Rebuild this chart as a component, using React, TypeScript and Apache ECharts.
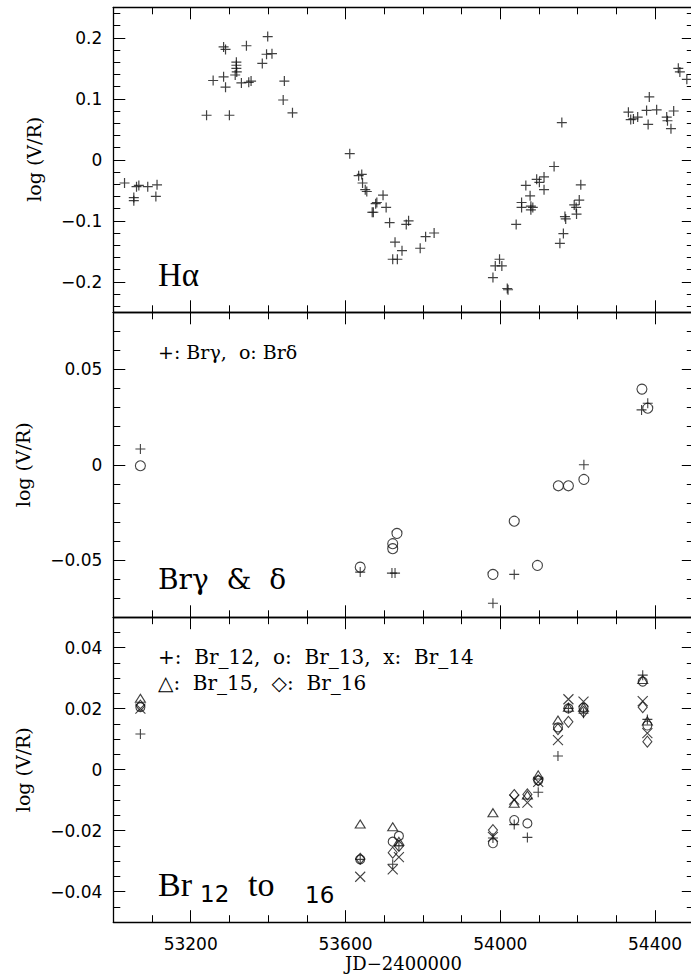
import React, { useEffect, useRef } from "react";
import * as echarts from "echarts";

// ---------------- data ----------------
const X_MIN = 53000;
const X_MAX = 54500;
const X_MINOR = 100;
const X_MAJOR = 400;
const xTickLabels = [53200, 53600, 54000, 54400];

const y1Range = [-0.25, 0.25];
const y1Ticks = [-0.2, -0.1, 0, 0.1, 0.2];
const y2Range = [-0.08, 0.08];
const y2Ticks = [-0.05, 0, 0.05];
const y3Range = [-0.05, 0.05];
const y3Ticks = [-0.04, -0.02, 0, 0.02, 0.04];

// H alpha log(V/R)
const halpha: [number, number][] = [
  [53029, -0.038], [53053, -0.062], [53053, -0.067], [53060, -0.044], [53066, -0.042],
  [53089, -0.044], [53110, -0.060], [53113, -0.041],
  [53241, 0.073], [53258, 0.130], [53285, 0.185], [53290, 0.181], [53285, 0.136],
  [53290, 0.119], [53300, 0.073], [53318, 0.160], [53318, 0.155], [53318, 0.150],
  [53319, 0.144], [53315, 0.139], [53331, 0.126], [53344, 0.187], [53350, 0.127],
  [53356, 0.129], [53385, 0.158], [53399, 0.202], [53396, 0.173], [53410, 0.174],
  [53442, 0.129], [53439, 0.098], [53463, 0.077],
  [53611, 0.010], [53634, -0.026], [53642, -0.024], [53644, -0.038], [53651, -0.049],
  [53655, -0.052], [53669, -0.086], [53672, -0.086], [53678, -0.072], [53681, -0.070],
  [53697, -0.058], [53705, -0.078], [53714, -0.103], [53728, -0.135], [53722, -0.163],
  [53734, -0.163], [53746, -0.149], [53757, -0.106], [53763, -0.100], [53793, -0.145],
  [53807, -0.126], [53829, -0.120],
  [53981, -0.193], [53987, -0.174], [53998, -0.163], [54004, -0.174], [54018, -0.211],
  [54020, -0.213], [54041, -0.106], [54055, -0.070], [54055, -0.078], [54066, -0.042],
  [54077, -0.059], [54079, -0.076], [54084, -0.078], [54079, -0.082], [54094, -0.032],
  [54101, -0.037], [54113, -0.028], [54113, -0.049], [54139, -0.011], [54154, -0.137],
  [54163, -0.121], [54159, 0.061], [54167, -0.093], [54169, -0.097], [54191, -0.074],
  [54196, -0.078], [54197, -0.089], [54204, -0.066], [54208, -0.041],
  [54331, 0.078], [54337, 0.066], [54344, 0.067], [54355, 0.070], [54385, 0.103],
  [54378, 0.081], [54382, 0.058], [54404, 0.082], [54430, 0.070], [54432, 0.064],
  [54441, 0.051], [54448, 0.080], [54460, 0.150], [54464, 0.144], [54482, 0.132],
];

// Br gamma (+) and Br delta (o)
const brGamma: [number, number][] = [
  [53070, 0.0083], [53638, -0.0563], [53720, -0.0568], [53728, -0.0568],
  [53981, -0.0726], [54036, -0.0575], [54216, 0.0], [54365, 0.0288], [54381, 0.0323],
];
const brDelta: [number, number][] = [
  [53070, -0.0005], [53638, -0.0537], [53722, -0.0414], [53722, -0.044], [53733, -0.036],
  [53981, -0.0575], [54036, -0.0296], [54096, -0.0528], [54150, -0.011], [54176, -0.011],
  [54216, -0.0077], [54366, 0.0397], [54381, 0.0297],
];

// Br 12 - 16
const brDates = [53070, 53638, 53722, 53738, 53981, 54036, 54070, 54098, 54149, 54176, 54215, 54368, 54380];
const br12 = [0.0117, -0.0294, -0.031, -0.025, -0.0224, -0.018, -0.0222, -0.0074, 0.0045, 0.0201, 0.0185, 0.031, 0.0165];
const br13 = [0.0205, -0.0294, -0.0236, -0.0217, -0.0241, -0.0165, -0.0176, -0.0035, 0.0139, 0.0201, 0.0203, 0.0289, 0.0145];
const br14 = [0.0200, -0.0351, -0.0327, -0.0287, -0.022, -0.0098, -0.0108, -0.004, 0.0097, 0.0231, 0.0223, 0.0225, 0.012];
const br15 = [0.0234, -0.0178, -0.0187, -0.0235, -0.0141, -0.011, -0.0083, -0.0017, 0.0163, 0.0205, 0.0205, 0.0296, 0.016];
const br16 = [0.0210, -0.0292, -0.0272, -0.025, -0.0198, -0.0083, -0.0081, -0.0035, 0.0133, 0.0157, 0.019, 0.0205, 0.0092];

// ---------------- layout / style ----------------
const GRID_LEFT = 113.3;
const GRID_WIDTH = 580.5;
const PANEL_TOPS = [7.3, 312.3, 617.2];
const PANEL_H = 305;
const TICK = { color: "#000", width: 1 };
const FRAME = { color: "#000", width: 1.3 };
const NUM_FONT = "DejaVu Sans";
const SERIF = "Liberation Serif, DejaVu Serif, serif";
const DSERIF = "DejaVu Serif, serif";
const INK = "#111";

const PLUS = "path://M0 5H10M5 0V10";
const XMARK = "path://M0 0L10 10M10 0L0 10";

const zip = (xs: number[], ys: number[]) => xs.map((x, i) => [x, ys[i]]);
const fmt = (v: number) => (Math.abs(v) < 1e-12 ? "0" : (v < 0 ? "\u2212" : "") + String(Math.abs(v)));
const inList = (list: number[], v: number) => list.some((t) => Math.abs(t - v) < 1e-9);

function xAxesFor(gi: number, labels: boolean) {
  const common = {
    gridIndex: gi, type: "value", min: X_MIN, max: X_MAX,
    splitLine: { show: false }, silent: true,
  };
  const minor = (pos: string) => ({
    ...common, position: pos, minInterval: X_MINOR, maxInterval: X_MINOR,
    axisLine: { show: true, onZero: false, lineStyle: FRAME },
    axisTick: { show: true, inside: true, length: 7, lineStyle: TICK },
    axisLabel: { show: false },
  });
  const major = (pos: string, lab: boolean) => ({
    ...common, position: pos, minInterval: X_MAJOR, maxInterval: X_MAJOR,
    axisLine: { show: false, onZero: false },
    axisTick: { show: true, inside: true, length: 12, lineStyle: TICK },
    axisLabel: lab
      ? {
          show: true, margin: 13, fontFamily: NUM_FONT, fontSize: 17, color: "#000",
          formatter: (v: number) => (inList(xTickLabels, v) ? String(v) : ""),
        }
      : { show: false },
  });
  return [minor("bottom"), major("bottom", labels), minor("top"), major("top", false)];
}

function yAxesFor(gi: number, range: number[], minorStep: number, majorStep: number, ticks: number[]) {
  const common = {
    gridIndex: gi, type: "value", min: range[0], max: range[1],
    splitLine: { show: false }, silent: true,
  };
  const minor = (pos: string, line: boolean) => ({
    ...common, position: pos, minInterval: minorStep, maxInterval: minorStep,
    axisLine: { show: line, onZero: false, lineStyle: FRAME },
    axisTick: { show: true, inside: true, length: 7, lineStyle: TICK },
    axisLabel: { show: false },
  });
  const major = (pos: string, lab: boolean) => ({
    ...common, position: pos, minInterval: majorStep, maxInterval: majorStep,
    axisLine: { show: false, onZero: false },
    axisTick: { show: true, inside: true, length: 12, lineStyle: TICK },
    axisLabel: lab
      ? {
          show: true, margin: 11, fontFamily: NUM_FONT, fontSize: 17, color: "#000",
          formatter: (v: number) => (inList(ticks, v) ? fmt(v) : ""),
        }
      : { show: false },
  });
  return [minor("left", true), major("left", true), minor("right", false), major("right", false)];
}

function scatter(gi: number, data: number[][], symbol: string, size: number | number[], bw = 1.1) {
  return {
    type: "scatter", xAxisIndex: gi * 4, yAxisIndex: gi * 4, data, symbol, symbolSize: size,
    itemStyle: { color: "transparent", borderColor: INK, borderWidth: bw },
    silent: true, z: 5,
  };
}

function txt(text: string, x: number, y: number, size: number, family = SERIF) {
  return {
    type: "text", x, y, silent: true, z: 10,
    style: { text, fontSize: size, fontFamily: family, fill: "#000", align: "left", verticalAlign: "middle" },
  };
}

export default function App() {
  const ref = useRef<HTMLDivElement>(null);
  useEffect(() => {
    if (!ref.current) return;
    const chart = echarts.init(ref.current, undefined, { renderer: "svg" });
    const grids = PANEL_TOPS.map((top) => ({
      left: GRID_LEFT, top, width: GRID_WIDTH, height: PANEL_H,
      show: false, containLabel: false, outerBoundsMode: "none",
    }));
    const yName = (x: number, y: number) => ({
      type: "text", x, y, rotation: Math.PI / 2, silent: true,
      style: { text: "log (V/R)", fontSize: 19, fontFamily: DSERIF, fill: "#000", align: "center", verticalAlign: "middle" },
    });
    const option: any = {
      animation: false,
      backgroundColor: "#fff",
      grid: grids,
      xAxis: [...xAxesFor(0, false), ...xAxesFor(1, false), ...xAxesFor(2, true)],
      yAxis: [
        ...yAxesFor(0, y1Range, 0.02, 0.1, y1Ticks),
        ...yAxesFor(1, y2Range, 0.01, 0.05, y2Ticks),
        ...yAxesFor(2, y3Range, 0.005, 0.02, y3Ticks),
      ],
      series: [
        scatter(0, halpha, PLUS, 10, 1.2),
        scatter(1, brGamma, PLUS, 10, 1.1),
        scatter(1, brDelta, "circle", 10, 1.1),
        scatter(2, zip(brDates, br12), PLUS, 10),
        scatter(2, zip(brDates, br13), "circle", 9),
        scatter(2, zip(brDates, br14), XMARK, 10),
        scatter(2, zip(brDates, br15), "triangle", [10, 8]),
        scatter(2, zip(brDates, br16), "diamond", [9, 11]),
      ],
      graphic: [
        yName(34, 159.3),
        yName(22.5, 464.7),
        yName(22.5, 769.7),
        {
          type: "text", x: 403.5, y: 963, silent: true,
          style: { text: "JD\u22122400000", fontSize: 18, fontFamily: DSERIF, fill: "#000", align: "center", verticalAlign: "middle" },
        },
        txt("H\u03b1", 158, 274.5, 33),
        txt("+: Br\u03b3,  o: Br\u03b4", 158, 352, 19, DSERIF),
        txt("Br\u03b3  &  \u03b4", 158, 579, 28, DSERIF),
        txt("+:  Br_12,  o:  Br_13,  x:  Br_14", 158, 656.5, 20, DSERIF),
        txt("\u25b3:  Br_15,  \u25c7:  Br_16", 158, 682.5, 20, DSERIF),
        txt("Br", 158, 884.5, 34),
        txt("12", 200, 894, 23, NUM_FONT),
        txt("to", 248, 884.5, 34),
        txt("16", 305, 895, 23, NUM_FONT),
      ],
    };
    chart.setOption(option);
    return () => chart.dispose();
  }, []);
  return (
    <div style={{ position: "absolute", left: 0, top: 0, width: 691, height: 979, overflow: "hidden", background: "#fff" }}>
      <div ref={ref} style={{ width: 700, height: 979 }} />
    </div>
  );
}
